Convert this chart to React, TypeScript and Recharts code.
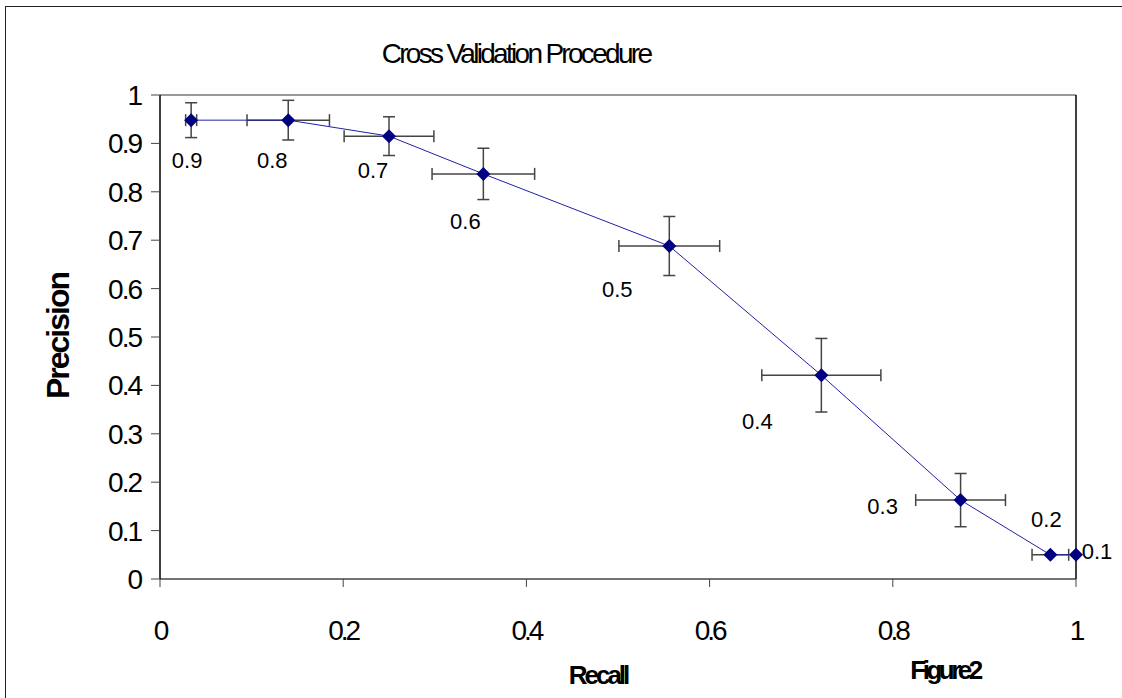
import { ErrorBar, Label, ReferenceLine, Scatter, ScatterChart, XAxis, YAxis } from 'recharts';

const thresholds = ['0.9', '0.8', '0.7', '0.6', '0.5', '0.4', '0.3', '0.2', '0.1'];
const recall = [0.034, 0.14, 0.25, 0.353, 0.556, 0.722, 0.874, 0.972, 1.0];
const precision = [0.948, 0.948, 0.915, 0.837, 0.688, 0.421, 0.163, 0.05, 0.05];
const recallErr = [0.006, 0.045, 0.049, 0.056, 0.055, 0.065, 0.049, 0.02, 0];
const precisionErr = [0.036, 0.041, 0.04, 0.053, 0.061, 0.076, 0.055, 0, 0];
const xTicks = [0, 0.2, 0.4, 0.6, 0.8, 1];
const yTicks = [0, 0.1, 0.2, 0.3, 0.4, 0.5, 0.6, 0.7, 0.8, 0.9, 1];

const rows = thresholds.map((t, i) => ({
  t,
  recall: recall[i],
  precision: precision[i],
  ex: recallErr[i],
  ey: precisionErr[i],
}));

// hand placed threshold labels, offset from the marker (px)
const labelNudge: Record<string, [number, number]> = {
  '0.9': [-4, 40],
  '0.8': [-16, 40],
  '0.7': [-16, 34],
  '0.6': [-18, 48],
  '0.5': [-52, 43],
  '0.4': [-64, 46],
  '0.3': [-78, 6],
  '0.2': [-4, -35],
  '0.1': [21, -3],
};

const FONT = '"Liberation Sans", Arial, sans-serif';

const fmt = (v: number) => (v === 0 || v === 1 ? String(v) : v.toFixed(1));

function Diamond(props: any) {
  const { cx, cy, payload } = props;
  const [dx, dy] = labelNudge[payload.t] ?? [0, 0];
  const r = 7;
  return (
    <g>
      <path d={`M${cx},${cy - r}L${cx + r},${cy}L${cx},${cy + r}L${cx - r},${cy}Z`} fill="#000080" />
      <text
        x={cx + dx}
        y={cy + dy}
        textAnchor="middle"
        dominantBaseline="central"
        fontFamily={FONT}
        fontSize={22}
        fill="#000"
      >
        {payload.t}
      </text>
    </g>
  );
}

export default function App() {
  return (
    <div style={{ position: 'relative', width: 1122, height: 698, overflow: 'hidden', background: '#fff' }}>
      <style>{'body{margin:0}'}</style>
      <div
        style={{
          position: 'absolute',
          left: 5,
          top: 6,
          width: 1140,
          height: 800,
          border: '1.5px solid #222',
        }}
      />
      <div
        style={{
          position: 'absolute',
          left: 516,
          top: 38,
          transform: 'translateX(-50%)',
          fontFamily: FONT,
          fontSize: 28,
          letterSpacing: -2.7,
          whiteSpace: 'nowrap',
        }}
      >
        Cross Validation Procedure
      </div>
      <div
        style={{
          position: 'absolute',
          left: 945,
          top: 655,
          transform: 'translateX(-50%)',
          fontFamily: FONT,
          fontWeight: 'bold',
          fontSize: 26,
          letterSpacing: -3.5,
          whiteSpace: 'nowrap',
        }}
      >
        Figure2
      </div>
      <ScatterChart
        width={1122}
        height={698}
        margin={{ top: 95, right: 46, left: 0, bottom: 0 }}
        style={{ position: 'absolute', left: 0, top: 0 }}
      >
        <XAxis
          type="number"
          dataKey="recall"
          domain={[0, 1]}
          ticks={xTicks}
          tickFormatter={fmt}
          tickSize={8}
          tickMargin={33}
          height={119}
          axisLine={{ stroke: '#444', strokeWidth: 1.5 }}
          tickLine={{ stroke: '#444' }}
          tick={{ fill: '#000', fontSize: 28, fontFamily: FONT, letterSpacing: -3 }}
        >
          <Label
            content={() => (
              <text
                x={598}
                y={684}
                textAnchor="middle"
                fontFamily={FONT}
                fontWeight="bold"
                fontSize={26}
                letterSpacing={-3}
              >
                Recall
              </text>
            )}
          />
        </XAxis>
        <YAxis
          type="number"
          dataKey="precision"
          domain={[0, 1]}
          ticks={yTicks}
          tickFormatter={fmt}
          tickSize={9}
          tickMargin={10}
          width={160}
          axisLine={{ stroke: '#000', strokeWidth: 1.5 }}
          tickLine={{ stroke: '#444' }}
          tick={{ fill: '#000', fontSize: 28, fontFamily: FONT, letterSpacing: -2 }}
        >
          <Label
            content={() => (
              <text
                x={0}
                y={0}
                transform="translate(58,336) rotate(-90)"
                textAnchor="middle"
                dominantBaseline="central"
                fontFamily={FONT}
                fontWeight="bold"
                fontSize={32}
                letterSpacing={-2}
              >
                Precision
              </text>
            )}
          />
        </YAxis>
        <ReferenceLine y={1} stroke="#777" strokeWidth={1.5} />
        <ReferenceLine x={1} stroke="#000" strokeWidth={1.5} />
        <Scatter
          data={rows}
          line={{ stroke: '#2020a8', strokeWidth: 1 }}
          shape={Diamond}
          isAnimationActive={false}
        >
          <ErrorBar dataKey="ex" direction="x" width={6} stroke="#444" strokeWidth={1.5} />
          <ErrorBar dataKey="ey" direction="y" width={6} stroke="#444" strokeWidth={1.5} />
        </Scatter>
      </ScatterChart>
    </div>
  );
}
